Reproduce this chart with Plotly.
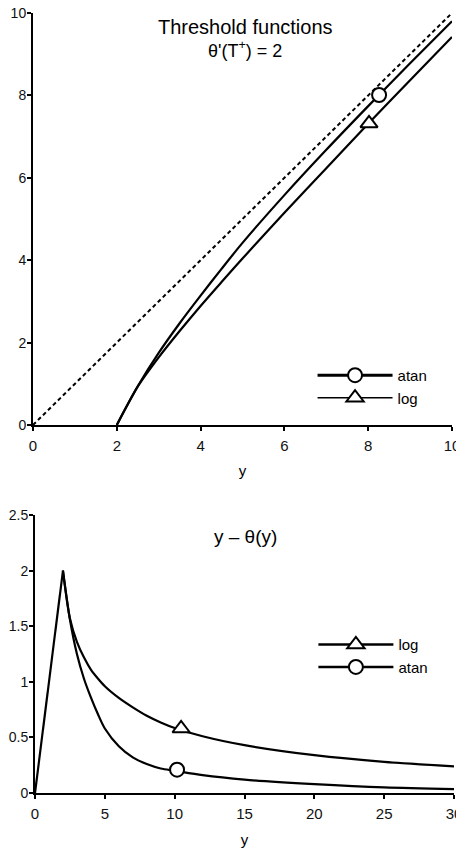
import plotly.graph_objects as go

# input values y (shared grid)
y_top = [2, 2.5, 3, 3.5, 4, 4.5, 5, 6, 7, 8, 9, 10]
theta_atan = [0, 0.94, 1.75, 2.47, 3.14, 3.79, 4.42, 5.58, 6.68, 7.74, 8.78, 9.80]
theta_log = [0, 0.93, 1.64, 2.28, 2.89, 3.47, 4.04, 5.15, 6.23, 7.31, 8.37, 9.42]
diag = [0, 10]

y_bot = [0, 2, 2.5, 3, 3.5, 4, 4.5, 5, 6, 7, 8, 9, 10, 12, 15, 20, 25, 30]
gap_atan = [0, 2, 1.56, 1.25, 1.03, 0.86, 0.71, 0.58, 0.42, 0.32, 0.26, 0.22, 0.20, 0.16, 0.12, 0.08, 0.05, 0.035]
gap_log = [0, 2, 1.57, 1.36, 1.22, 1.11, 1.03, 0.96, 0.855, 0.77, 0.695, 0.635, 0.585, 0.51, 0.43, 0.34, 0.28, 0.24]

# single marker points on each curve
mark_top = {"atan": (8.26, 8.01), "log": (8.02, 7.32)}
mark_bot = {"atan": (10.17, 0.21), "log": (10.46, 0.58)}

FONT = "Liberation Sans, Arial, Helvetica, sans-serif"
BLACK = "#000000"
circle = dict(symbol="circle", size=14, color="white", line=dict(color=BLACK, width=2))
triangle = dict(symbol="triangle-up", size=15, color="white", line=dict(color=BLACK, width=2))
curve = dict(color=BLACK, width=2.2, shape="spline", smoothing=0.8)

fig = go.Figure()

# --- top panel: threshold functions ---
fig.add_trace(go.Scatter(x=diag, y=diag, mode="lines", showlegend=False,
                         line=dict(color=BLACK, width=2, dash="4px,3px"),
                         xaxis="x", yaxis="y"))
fig.add_trace(go.Scatter(x=y_top, y=theta_atan, mode="lines", showlegend=False,
                         line=curve, xaxis="x", yaxis="y"))
fig.add_trace(go.Scatter(x=y_top, y=theta_log, mode="lines", showlegend=False,
                         line=curve, xaxis="x", yaxis="y"))
fig.add_trace(go.Scatter(x=[mark_top["atan"][0]], y=[mark_top["atan"][1]], mode="markers",
                         marker=circle, showlegend=False, xaxis="x", yaxis="y"))
fig.add_trace(go.Scatter(x=[mark_top["log"][0]], y=[mark_top["log"][1]], mode="markers",
                         marker=triangle, showlegend=False, xaxis="x", yaxis="y"))
# legend entries
fig.add_trace(go.Scatter(x=[None], y=[None], mode="lines+markers", name="atan",
                         line=dict(color=BLACK, width=3), marker=circle,
                         legend="legend", xaxis="x", yaxis="y"))
fig.add_trace(go.Scatter(x=[None], y=[None], mode="lines+markers", name="log",
                         line=dict(color=BLACK, width=1.5), marker=triangle,
                         legend="legend", xaxis="x", yaxis="y"))

# --- bottom panel: y - theta(y) ---
# rising part (identical for both) drawn straight, decay part smoothed
fig.add_trace(go.Scatter(x=y_bot[:2], y=gap_log[:2], mode="lines", showlegend=False,
                         line=dict(color=BLACK, width=2.2), xaxis="x2", yaxis="y2"))
fig.add_trace(go.Scatter(x=y_bot[1:], y=gap_log[1:], mode="lines", showlegend=False,
                         line=curve, xaxis="x2", yaxis="y2"))
fig.add_trace(go.Scatter(x=y_bot[1:], y=gap_atan[1:], mode="lines", showlegend=False,
                         line=curve, xaxis="x2", yaxis="y2"))
fig.add_trace(go.Scatter(x=[mark_bot["log"][0]], y=[mark_bot["log"][1]], mode="markers",
                         marker=triangle, showlegend=False, xaxis="x2", yaxis="y2"))
fig.add_trace(go.Scatter(x=[mark_bot["atan"][0]], y=[mark_bot["atan"][1]], mode="markers",
                         marker=circle, showlegend=False, xaxis="x2", yaxis="y2"))
fig.add_trace(go.Scatter(x=[None], y=[None], mode="lines+markers", name="log",
                         line=dict(color=BLACK, width=2.5), marker=triangle,
                         legend="legend2", xaxis="x2", yaxis="y2"))
fig.add_trace(go.Scatter(x=[None], y=[None], mode="lines+markers", name="atan",
                         line=dict(color=BLACK, width=2.5), marker=circle,
                         legend="legend2", xaxis="x2", yaxis="y2"))

axis_style = dict(showgrid=False, zeroline=False, showline=True, linecolor=BLACK,
                  linewidth=2, ticks="outside", ticklen=4, tickwidth=2, tickcolor=BLACK,
                  automargin=False, ticklabeloverflow="allow")
x_style = dict(axis_style, ticklabelstandoff=2,
               tickfont=dict(family=FONT, size=15, color="#111111"),
               title=dict(text="y", font=dict(size=15), standoff=13))
y_style = dict(axis_style, ticklabelstandoff=-2,
               tickfont=dict(family=FONT, size=14, color="#111111"))

fig.update_layout(
    # the page body adds an 8px offset, so the div is a bit smaller than the window
    width=456, height=842,
    margin=dict(l=25, r=10, t=0, b=57),
    paper_bgcolor="white", plot_bgcolor="white",
    font=dict(family=FONT, size=15, color=BLACK),
    xaxis=dict(domain=[0, 0.9952], range=[0, 10], dtick=2, anchor="y", **x_style),
    yaxis=dict(domain=[0.4688, 0.9936], range=[0, 10], dtick=2, anchor="x", **y_style),
    xaxis2=dict(domain=[0.0048, 1], range=[0, 30], dtick=5, anchor="y2", **x_style),
    yaxis2=dict(domain=[0, 0.3541], range=[0, 2.5], dtick=0.5, anchor="x2", **y_style),
    legend=dict(x=0.664, y=0.553, xanchor="left", yanchor="top", bgcolor="rgba(0,0,0,0)",
                font=dict(family=FONT, size=15), itemwidth=75, tracegroupgap=0),
    legend2=dict(x=0.666, y=0.210, xanchor="left", yanchor="top", bgcolor="rgba(0,0,0,0)",
                 font=dict(family=FONT, size=15), itemwidth=75, tracegroupgap=0),
    annotations=[
        dict(text="Threshold functions", xref="paper", yref="paper", x=0.5036, y=0.9764,
             xanchor="center", yanchor="middle", showarrow=False, font=dict(size=20)),
        dict(text="θ'(T<sup>+</sup>) = 2", xref="paper", yref="paper", x=0.5036, y=0.9465,
             xanchor="center", yanchor="middle", showarrow=False, font=dict(size=18)),
        dict(text="y – θ(y)", xref="paper", yref="paper", x=0.5036, y=0.3265,
             xanchor="center", yanchor="middle", showarrow=False, font=dict(size=19)),
    ],
)

fig.write_html("out.html")
